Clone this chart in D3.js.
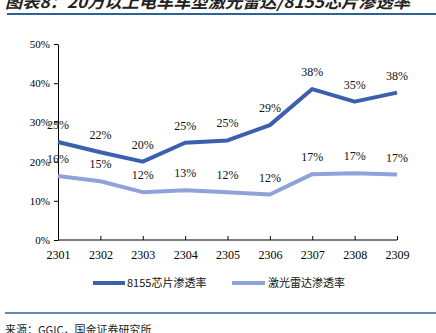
<!DOCTYPE html>
<html>
<head>
<meta charset="utf-8">
<script src="https://cdn.jsdelivr.net/npm/d3@7/dist/d3.min.js"></script>
<style>
html,body{margin:0;padding:0;background:#fff;}
svg{display:block;}
</style>
</head>
<body>
<svg id="chart" width="436" height="333"></svg>
<script>
const months = ["2301","2302","2303","2304","2305","2306","2307","2308","2309"];
const chip8155 = [25.0, 22.4, 20.0, 24.8, 25.4, 29.3, 38.5, 35.3, 37.6];
const lidar = [16.3, 15.0, 12.2, 12.7, 12.2, 11.6, 16.8, 17.0, 16.7];
const chipLabels = ["25%","22%","20%","25%","25%","29%","38%","35%","38%"];
const lidarLabels = ["16%","15%","12%","13%","12%","12%","17%","17%","17%"];
const yTicks = [0,10,20,30,40,50];
const seriesNames = ["8155芯片渗透率","激光雷达渗透率"];
const titleText = "图表8：20万以上电车车型激光雷达/8155芯片渗透率";
const sourceText = "来源：GGIC，国金证券研究所";

const svg = d3.select("#chart");
const colors = ["#3b60ad","#8fa2da"];
const serif = "'Liberation Serif','Times New Roman',serif";
const cjk = "'Noto Sans CJK SC','Noto Sans',sans-serif";

const x = d3.scalePoint().domain(months).range([58, 397]);
const y = d3.scaleLinear().domain([0, 50]).range([240, 44]);

// title
svg.append("text").attr("x", 5).attr("y", 8)
  .attr("font-family", cjk).attr("font-size", 16).attr("font-weight", "bold")
  .attr("font-style", "italic").attr("fill", "#222")
  .attr("textLength", 405).attr("lengthAdjust", "spacingAndGlyphs")
  .text(titleText);
svg.append("line").attr("x1", 7).attr("x2", 436).attr("y1", 14).attr("y2", 14)
  .attr("stroke", "#2a6496").attr("stroke-width", 2);

// y axis
const yAxis = svg.append("g").attr("transform", "translate(58,0)")
  .call(d3.axisLeft(y).tickValues(yTicks).tickFormat(d => d + "%").tickSize(4).tickSizeOuter(0));
yAxis.select(".domain").attr("stroke", "#000");
yAxis.selectAll("text").attr("font-family", serif).attr("font-size", 11).attr("fill", "#000").attr("dx", "-1");

// x axis
const xAxis = svg.append("g").attr("transform", "translate(0,240)")
  .call(d3.axisBottom(x).tickSize(-4).tickSizeOuter(0));
xAxis.select(".domain").attr("stroke", "#000").attr("d", "M58,0H397");
xAxis.selectAll("text").attr("font-family", serif).attr("font-size", 12).attr("fill", "#000").attr("dy", "1.3em");
xAxis.selectAll(".tick line").attr("stroke", "#000");

const line = d3.line().x((d, i) => x(months[i])).y(d => y(d));
[chip8155, lidar].forEach((s, k) => {
  svg.append("path").datum(s).attr("d", line).attr("fill", "none")
    .attr("stroke", colors[k]).attr("stroke-width", 4).attr("stroke-linejoin", "round");
});

[[chip8155, chipLabels], [lidar, lidarLabels]].forEach(([s, labs]) => {
  svg.append("g").selectAll("text").data(s).join("text")
    .attr("x", (d, i) => x(months[i]))
    .attr("y", d => y(d) - 13)
    .attr("text-anchor", "middle")
    .attr("font-family", serif).attr("font-size", 12).attr("fill", "#111")
    .text((d, i) => labs[i]);
});

// legend
const leg = [{x1: 93, x2: 125, tx: 127}, {x1: 232, x2: 265, tx: 268}];
leg.forEach((l, k) => {
  svg.append("line").attr("x1", l.x1).attr("x2", l.x2).attr("y1", 283).attr("y2", 283)
    .attr("stroke", colors[k]).attr("stroke-width", 4);
  svg.append("text").attr("x", l.tx).attr("y", 287)
    .attr("font-family", cjk).attr("font-size", 11).attr("fill", "#111")
    .text(seriesNames[k]);
});

// footer
svg.append("line").attr("x1", 5).attr("x2", 436).attr("y1", 313).attr("y2", 313)
  .attr("stroke", "#2a6496").attr("stroke-width", 1.5);
svg.append("text").attr("x", 5).attr("y", 334)
  .attr("font-family", cjk).attr("font-size", 11).attr("fill", "#222")
  .text(sourceText);
</script>
</body>
</html>
